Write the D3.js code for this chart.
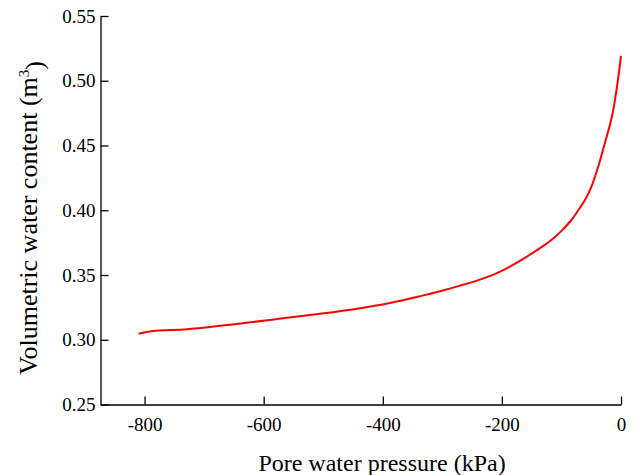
<!DOCTYPE html>
<html>
<head>
<meta charset="utf-8">
<script src="https://cdn.jsdelivr.net/npm/d3@7"></script>
<style>
  html, body { margin: 0; padding: 0; background: #fff; }
  svg { display: block; }
</style>
</head>
<body>
<svg id="chart" width="634" height="475"></svg>
<script>
// Data
const pressure = [-810, -786, -729, -673, -618, -561, -505, -443, -388, -337, -304, -270, -237, -203, -169, -136, -119, -102, -85, -72, -60, -50, -40, -27, -15, -7, 0];
const waterContent = [0.3046, 0.3067, 0.3082, 0.3108, 0.3137, 0.3170, 0.3201, 0.3240, 0.3284, 0.3337, 0.3375, 0.3418, 0.3464, 0.3526, 0.3611, 0.3708, 0.3762, 0.3831, 0.3915, 0.3998, 0.4083, 0.4179, 0.4311, 0.4520, 0.4728, 0.4945, 0.5192];
const xTicks = [-800, -600, -400, -200, 0];
const yTicks = [0.25, 0.30, 0.35, 0.40, 0.45, 0.50, 0.55];
const xDomain = [-874, 0];
const yDomain = [0.25, 0.55];

const FONT = "Liberation Serif";
const svg = d3.select("#chart");
const mLeft = 100.5, mRight = 621, mTop = 16, mBottom = 404.5;

const x = d3.scaleLinear().domain(xDomain).range([mLeft, mRight]);
const y = d3.scaleLinear().domain(yDomain).range([mBottom, mTop]);

const xAxis = svg.append("g")
  .attr("transform", `translate(0,${mBottom})`)
  .call(d3.axisBottom(x).tickValues(xTicks).tickSize(-8).tickPadding(13).tickSizeOuter(0)
        .tickFormat(d => String(d)));
const yAxis = svg.append("g")
  .attr("transform", `translate(${mLeft},0)`)
  .call(d3.axisLeft(y).tickValues(yTicks).tickSize(-8).tickPadding(5).tickSizeOuter(0)
        .tickFormat(d3.format(".2f")));

[xAxis, yAxis].forEach(g => {
  g.attr("font-family", FONT).attr("font-size", 19);
  g.selectAll("path.domain").attr("stroke", "#000").attr("stroke-width", 1.3);
  g.selectAll(".tick line").attr("stroke", "#000").attr("stroke-width", 1.3);
  g.selectAll(".tick text").attr("fill", "#000").attr("font-family", FONT).attr("font-size", 19);
});

const data = pressure.map((p, i) => ({ p, w: waterContent[i] }));
const line = d3.line()
  .x(d => x(d.p))
  .y(d => y(d.w))
  .curve(d3.curveCatmullRom.alpha(0.5));

svg.append("path")
  .datum(data)
  .attr("fill", "none")
  .attr("stroke", "#ff0000")
  .attr("stroke-width", 2)
  .attr("d", line);

svg.append("text")
  .attr("x", 382)
  .attr("y", 471)
  .attr("text-anchor", "middle")
  .attr("font-family", FONT)
  .attr("font-size", 24)
  .attr("fill", "#000")
  .text("Pore water pressure (kPa)");

const yt = svg.append("text")
  .attr("transform", `translate(37,218) rotate(-90)`)
  .attr("text-anchor", "middle")
  .attr("font-family", FONT)
  .attr("font-size", 26)
  .attr("fill", "#000");
yt.append("tspan").text("Volumetric water content (m");
yt.append("tspan").attr("dy", "-0.55em").attr("font-size", 15).text("3");
yt.append("tspan").attr("dy", "0.55em").text(")");
</script>
</body>
</html>
